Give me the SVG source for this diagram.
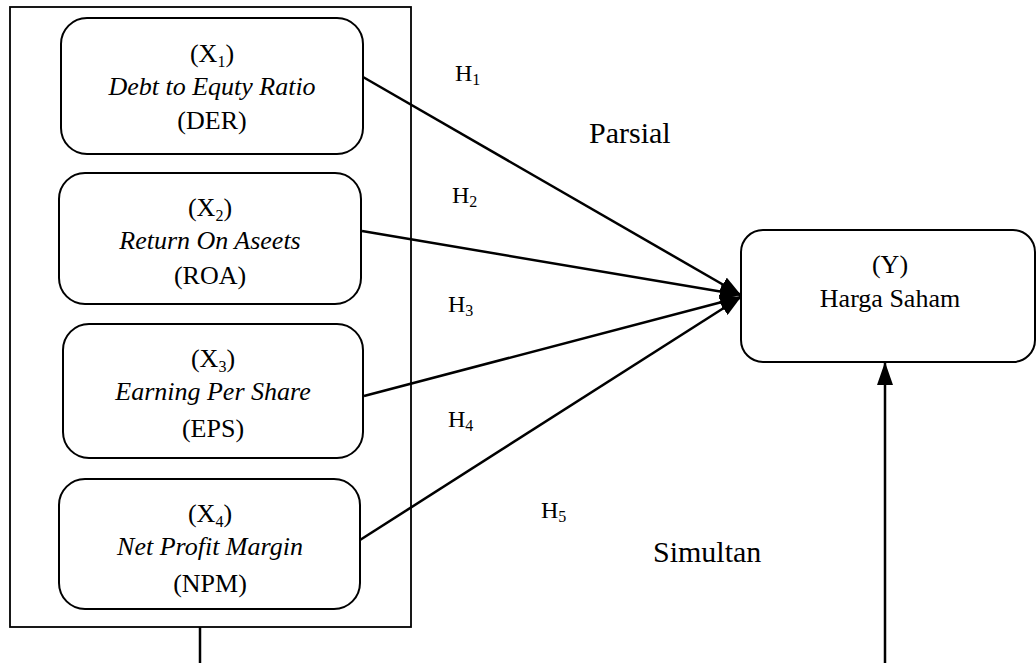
<svg xmlns="http://www.w3.org/2000/svg" width="1036" height="663" viewBox="0 0 1036 663">
<style>
.box{fill:#fff;stroke:#000;stroke-width:2}
.frame{fill:none;stroke:#000;stroke-width:1.8}
.t{font-family:"Liberation Serif","Times New Roman",serif;font-size:26px;fill:#000;text-anchor:middle}
.i{font-style:italic}
.h{font-family:"Liberation Serif","Times New Roman",serif;font-size:24px;fill:#000}
.big{font-family:"Liberation Serif","Times New Roman",serif;font-size:30px;fill:#000}
.sub{font-size:16px}
.c{fill:none;stroke:#000;stroke-width:2.5}
</style>
<defs>
<marker id="ah" markerUnits="userSpaceOnUse" markerWidth="22" markerHeight="16" refX="21" refY="8" orient="auto">
<path d="M0,0 L21,8 L0,16 z" fill="#000"/>
</marker>
<marker id="av" markerUnits="userSpaceOnUse" markerWidth="24" markerHeight="16" refX="23" refY="8" orient="auto">
<path d="M0,0 L23,8 L0,16 z" fill="#000"/>
</marker>
</defs>
<rect width="1036" height="663" fill="#fff"/>
<g id="frame"><rect class="frame" x="10" y="7" width="401" height="620"/></g>
<g id="x1">
<rect class="box" x="61" y="18" width="302" height="136" rx="26"/>
<text class="t" x="212" y="62">(X<tspan class="sub" dy="5">1</tspan><tspan dy="-5">)</tspan></text>
<text class="t i" x="212" y="95">Debt to Equty Ratio</text>
<text class="t" x="212" y="129">(DER)</text>
</g>
<g id="x2">
<rect class="box" x="59" y="173" width="302" height="131" rx="26"/>
<text class="t" x="210" y="216">(X<tspan class="sub" dy="5">2</tspan><tspan dy="-5">)</tspan></text>
<text class="t i" x="210" y="249">Return On Aseets</text>
<text class="t" x="210" y="284">(ROA)</text>
</g>
<g id="x3">
<rect class="box" x="63" y="324" width="300" height="134" rx="26"/>
<text class="t" x="213" y="367">(X<tspan class="sub" dy="5">3</tspan><tspan dy="-5">)</tspan></text>
<text class="t i" x="213" y="400">Earning Per Share</text>
<text class="t" x="213" y="437">(EPS)</text>
</g>
<g id="x4">
<rect class="box" x="59" y="479" width="301" height="130" rx="26"/>
<text class="t" x="210" y="522">(X<tspan class="sub" dy="5">4</tspan><tspan dy="-5">)</tspan></text>
<text class="t i" x="210" y="555">Net Profit Margin</text>
<text class="t" x="210" y="592">(NPM)</text>
</g>
<g id="y">
<rect class="box" x="741" y="230" width="294" height="132" rx="22"/>
<text class="t" x="890" y="273">(Y)</text>
<text class="t" x="890" y="307">Harga Saham</text>
</g>
<g id="connectors">
<line class="c" x1="363" y1="77" x2="741" y2="295" marker-end="url(#ah)"/>
<line class="c" x1="362" y1="231" x2="741" y2="295" marker-end="url(#ah)"/>
<line class="c" x1="364" y1="396" x2="741" y2="297" marker-end="url(#ah)"/>
<line class="c" x1="360" y1="540" x2="741" y2="297" marker-end="url(#ah)"/>
<line class="c" x1="200" y1="627" x2="200" y2="663"/>
<line class="c" x1="885" y1="663" x2="885" y2="362" marker-end="url(#av)"/>
</g>
<g id="labels">
<text class="h" x="455" y="81">H<tspan class="sub" dy="4">1</tspan></text>
<text class="h" x="452" y="203">H<tspan class="sub" dy="4">2</tspan></text>
<text class="h" x="448" y="312">H<tspan class="sub" dy="4">3</tspan></text>
<text class="h" x="448" y="427">H<tspan class="sub" dy="4">4</tspan></text>
<text class="h" x="541" y="518">H<tspan class="sub" dy="4">5</tspan></text>
<text class="big" x="589" y="143">Parsial</text>
<text class="big" x="653" y="562">Simultan</text>
</g>
</svg>
